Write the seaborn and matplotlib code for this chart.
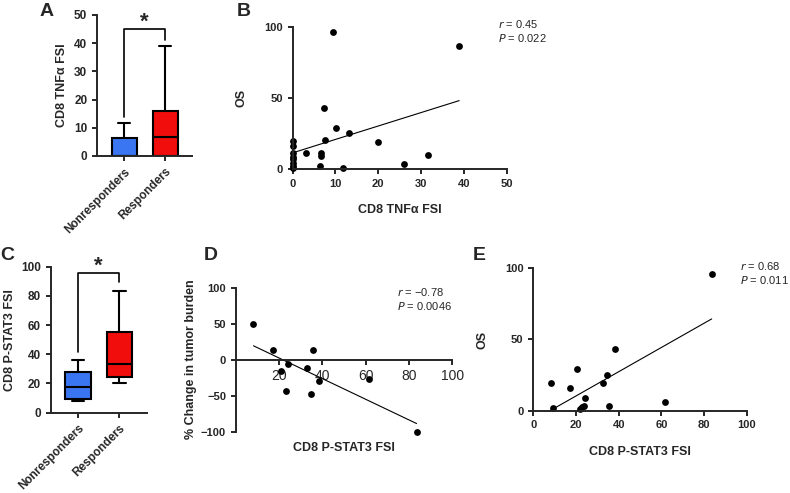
import numpy as np
import pandas as pd
import seaborn as sns
import matplotlib.pyplot as plt

# Box plot raw values (FSI per patient)
groups = ['Nonresponders', 'Responders']
tnfa_nonresp = [0, 0, 0, 0, 0, 0, 6.5, 6.7, 11.8]
tnfa_resp = [0, 0, 0, 0, 3.0, 6.4, 6.8, 7.5, 10.1, 16.0, 19.9, 31.5, 38.9]
stat3_nonresp = [8.2, 9.0, 9.8, 17.6, 24.0, 32.0, 35.8]
stat3_resp = [20.5, 23.5, 24.9, 33.6, 38.3, 72.3, 83.3]

# B: TNFa FSI vs OS
b_x = [0, 0, 0, 0, 0, 0, 0, 0, 3.0, 6.4, 6.5, 6.7, 7.3, 7.5, 9.4, 10.1, 11.8, 13.2, 19.9, 25.9, 31.5, 38.9]
b_y = [19.9, 16.4, 11.0, 8.7, 6.8, 4.4, 2.3, 0.9, 11.0, 2.1, 9.4, 11.0, 43.1, 20.1, 96.3, 29.0, 0.5, 25.1, 19.0, 3.5, 10.1, 86.4]

# D: P-STAT3 FSI vs % change in tumor burden
d_x = [8.2, 17.4, 20.8, 24.3, 23.4, 32.8, 35.8, 34.6, 38.3, 61.5, 83.5]
d_y = [50, 13.9, -16.2, -5.6, -43, -11.6, 13, -47.2, -30, -27.3, -100.5]

# E: P-STAT3 FSI vs OS
e_x = [8.1, 9.4, 17.2, 20.6, 21.9, 22.7, 23.6, 24.2, 32.8, 34.5, 35.6, 38.3, 61.7, 83.6]
e_y = [19.7, 2.1, 16.2, 29.0, 1.2, 2.3, 3.5, 9.1, 19.2, 25.1, 3.3, 43.1, 6.1, 96.0]

sns.set_style('ticks')
plt.rcParams['font.family'] = ['Liberation Sans', 'DejaVu Sans']
plt.rcParams['axes.linewidth'] = 1.4
plt.rcParams['xtick.major.width'] = 1.4
plt.rcParams['ytick.major.width'] = 1.4
plt.rcParams['xtick.major.size'] = 3.5
plt.rcParams['ytick.major.size'] = 3.5

blue = '#3a76f2'
red = '#f20d0d'
tick_fs = 8.5
lab_fs = 9

fig = plt.figure(figsize=(7.9, 4.93), dpi=100)
axA = fig.add_axes([0.1228, 0.6836, 0.1203, 0.2860])
axB = fig.add_axes([0.3705, 0.6572, 0.2709, 0.2886])
axC = fig.add_axes([0.0642, 0.1629, 0.1215, 0.2961])
axD = fig.add_axes([0.2984, 0.1244, 0.2741, 0.2921])
axE = fig.add_axes([0.6751, 0.1670, 0.2701, 0.2888])


def bold_ticks(ax, size):
    for t in ax.get_xticklabels() + ax.get_yticklabels():
        t.set_fontweight('bold')
        t.set_fontsize(size)


def box_panel(ax, nonresp, resp, ylim, yticks, ylabel, bracket):
    df = pd.DataFrame({'group': [groups[0]] * len(nonresp) + [groups[1]] * len(resp),
                       'val': nonresp + resp})
    sns.boxplot(data=df, x='group', y='val', hue='group', palette=[blue, red],
                saturation=1, whis=(0, 100), width=0.61, linecolor='black',
                linewidth=1.5, legend=False, ax=ax)
    ax.set_xlim(-0.66, 1.66)
    ax.set_ylim(*ylim)
    ax.set_yticks(yticks)
    ax.set_xlabel('')
    ax.set_ylabel(ylabel, fontsize=lab_fs, fontweight='bold')
    ax.set_xticks([0, 1])
    ax.set_xticklabels(groups, rotation=45, ha='right', rotation_mode='anchor')
    bold_ticks(ax, tick_fs)
    sns.despine(ax=ax)
    top, left_low, right_low, star_y = bracket
    ax.plot([0, 0, 1, 1], [left_low, top, top, right_low], color='black', lw=1.2, clip_on=False)
    ax.text(0.5, star_y, '*', ha='center', va='center', fontsize=16, fontweight='bold')


box_panel(axA, tnfa_nonresp, tnfa_resp, (0, 50), range(0, 51, 10), 'CD8 TNFα FSI', (45, 14, 41, 47.5))
box_panel(axC, stat3_nonresp, stat3_resp, (0, 100), range(0, 101, 20), 'CD8 P-STAT3 FSI', (95.4, 41.5, 89.3, 100))


def scatter_panel(ax, x, y, xlim, ylim, xticks, yticks):
    sns.regplot(x=x, y=y, ci=None, truncate=True, ax=ax,
                scatter_kws={'s': 24, 'color': 'black', 'alpha': 1, 'clip_on': False, 'linewidths': 0},
                line_kws={'color': 'black', 'lw': 0.8})
    ax.set_xlim(*xlim)
    ax.set_ylim(*ylim)
    ax.set_xticks(xticks)
    ax.set_yticks(yticks)
    bold_ticks(ax, tick_fs - 0.5)
    sns.despine(ax=ax)


scatter_panel(axB, b_x, b_y, (0, 50), (0, 100), range(0, 51, 10), [0, 50, 100])
axB.set_xlabel('CD8 TNFα FSI', fontsize=lab_fs, fontweight='bold', labelpad=11)
axB.set_ylabel('OS', fontsize=lab_fs, fontweight='bold', labelpad=12)

scatter_panel(axD, d_x, d_y, (0, 100), (-100, 100), [20, 40, 60, 80, 100], [-100, -50, 0, 50, 100])
axD.spines['bottom'].set_position(('data', 0))
axD.set_xlabel('CD8 P-STAT3 FSI', fontsize=lab_fs, fontweight='bold')
axD.xaxis.set_label_coords(0.5, -0.07)
axD.set_ylabel('% Change in tumor burden', fontsize=lab_fs, fontweight='bold', labelpad=3)

scatter_panel(axE, e_x, e_y, (0, 100), (0, 100), range(0, 101, 20), [0, 50, 100])
axE.set_xlabel('CD8 P-STAT3 FSI', fontsize=lab_fs, fontweight='bold', labelpad=11)
axE.set_ylabel('OS', fontsize=lab_fs, fontweight='bold', labelpad=12)

# correlation annotations
stats_txt = [(498 / 790, 1 - 24 / 493, '0.45', '0.022'),
             (397 / 790, 1 - 292 / 493, '\u22120.78', '0.0046'),
             (740 / 790, 1 - 266 / 493, '0.68', '0.011')]
for x0, y0, r, p in stats_txt:
    fig.text(x0, y0, r'$\it{r}$' + ' = ' + r, fontsize=8, va='center')
    fig.text(x0, y0 - 14 / 493, r'$\it{P}$' + ' = ' + p, fontsize=8, va='center')

# panel letters
for letter, px, py in [('A', 40, 12), ('B', 237, 11), ('C', 0, 255), ('D', 204, 255), ('E', 473, 255)]:
    fig.text(px / 790, 1 - py / 493, letter, fontsize=14, fontweight='bold', va='center')

plt.savefig('out.png', dpi=100)
